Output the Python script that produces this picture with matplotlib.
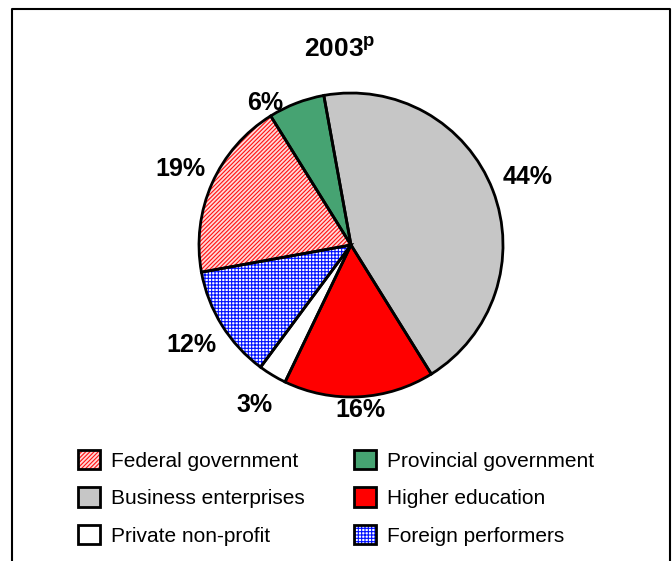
import numpy as np
import matplotlib.pyplot as plt
from matplotlib.patches import Patch
from matplotlib.lines import Line2D

plt.rcParams['font.family'] = ['Liberation Sans', 'DejaVu Sans']
plt.rcParams['mathtext.fontset'] = 'custom'
plt.rcParams['mathtext.rm'] = 'Liberation Sans:bold'
plt.rcParams['mathtext.bf'] = 'Liberation Sans:bold'
plt.rcParams['hatch.linewidth'] = 0.8

# R&D performers, share of total (%), clockwise from the top
sectors = ['Business enterprises', 'Higher education', 'Private non-profit',
           'Foreign performers', 'Federal government', 'Provincial government']
shares = [44, 16, 3, 12, 19, 6]
year_label = '2003'

# fill / hatch styling per sector
fills = {'Business enterprises': '#c6c6c6', 'Higher education': '#ff0000',
         'Private non-profit': 'white', 'Foreign performers': 'white',
         'Federal government': '#ffd8d8', 'Provincial government': '#46a372'}
hatch_cols = {'Foreign performers': '#0010ff', 'Federal government': '#ff1010'}
hatches = {'Foreign performers': '+++++', 'Federal government': '////////'}

# label placement: radial distance and angular nudge (deg)
lab_dist = [1.245, 1.09, 1.23, 1.24, 1.23, 1.09]
lab_nudge = [0, 0, 0, 0, 0, 10]

W, H = 672, 561
fig = plt.figure(figsize=(W / 100, H / 100), dpi=100)

cx, cy, r = 351, 245, 152
ax = fig.add_axes([(cx - r) / W, (H - cy - r) / H, 2 * r / W, 2 * r / H])

# first pass: fills and hatching
wedges, _ = ax.pie(shares, startangle=100.3, counterclock=False,
                   colors=[fills[s] for s in sectors],
                   wedgeprops=dict(linewidth=0))
for w, s in zip(wedges, sectors):
    if s in hatches:
        w.set_edgecolor(hatch_cols[s])
        w.set_hatch(hatches[s])
        w.set_linewidth(0)

# second pass: black outlines
ax.pie(shares, startangle=100.3, counterclock=False,
       colors=['none'] * len(shares),
       wedgeprops=dict(edgecolor='black', linewidth=2))

for w, v, d, n in zip(wedges, shares, lab_dist, lab_nudge):
    th = np.deg2rad((w.theta1 + w.theta2) / 2 + n)
    ax.text(d * np.cos(th), d * np.sin(th), f'{v}%', ha='center', va='center',
            fontsize=18, fontweight='bold', clip_on=False)

ax.set_xlim(-1, 1)
ax.set_ylim(-1, 1)
ax.set_aspect('equal')
ax.axis('off')

fig.text(340 / W, (H - 57) / H, year_label + r'$^{\mathbf{p}}$', ha='center',
         va='baseline', fontsize=19, fontweight='bold')

# legend
order = ['Federal government', 'Business enterprises', 'Private non-profit',
         'Provincial government', 'Higher education', 'Foreign performers']
handles = []
for s in order:
    handles.append(Patch(facecolor=fills[s], edgecolor='black', linewidth=2,
                         hatch=hatches.get(s), label=s))
leg = fig.legend(handles=handles, ncol=2, loc='upper left',
                 bbox_to_anchor=(78 / W, (H - 450) / H), frameon=False,
                 fontsize=15, handlelength=1.05, handleheight=1.05,
                 handletextpad=0.55, columnspacing=2.35, labelspacing=0.8,
                 borderpad=0, borderaxespad=0)
# hatch colour on legend boxes
for h, s in zip(leg.legend_handles, order):
    if s in hatches:
        h._hatch_color = plt.matplotlib.colors.to_rgba(hatch_cols[s])

# open frame: left, top, right edges
fig.add_artist(Line2D([12 / W, 12 / W, 670 / W, 670 / W],
                      [0, 1 - 9 / H, 1 - 9 / H, 0], color='black',
                      linewidth=1.5, transform=fig.transFigure))

fig.savefig('out.png', dpi=100)
